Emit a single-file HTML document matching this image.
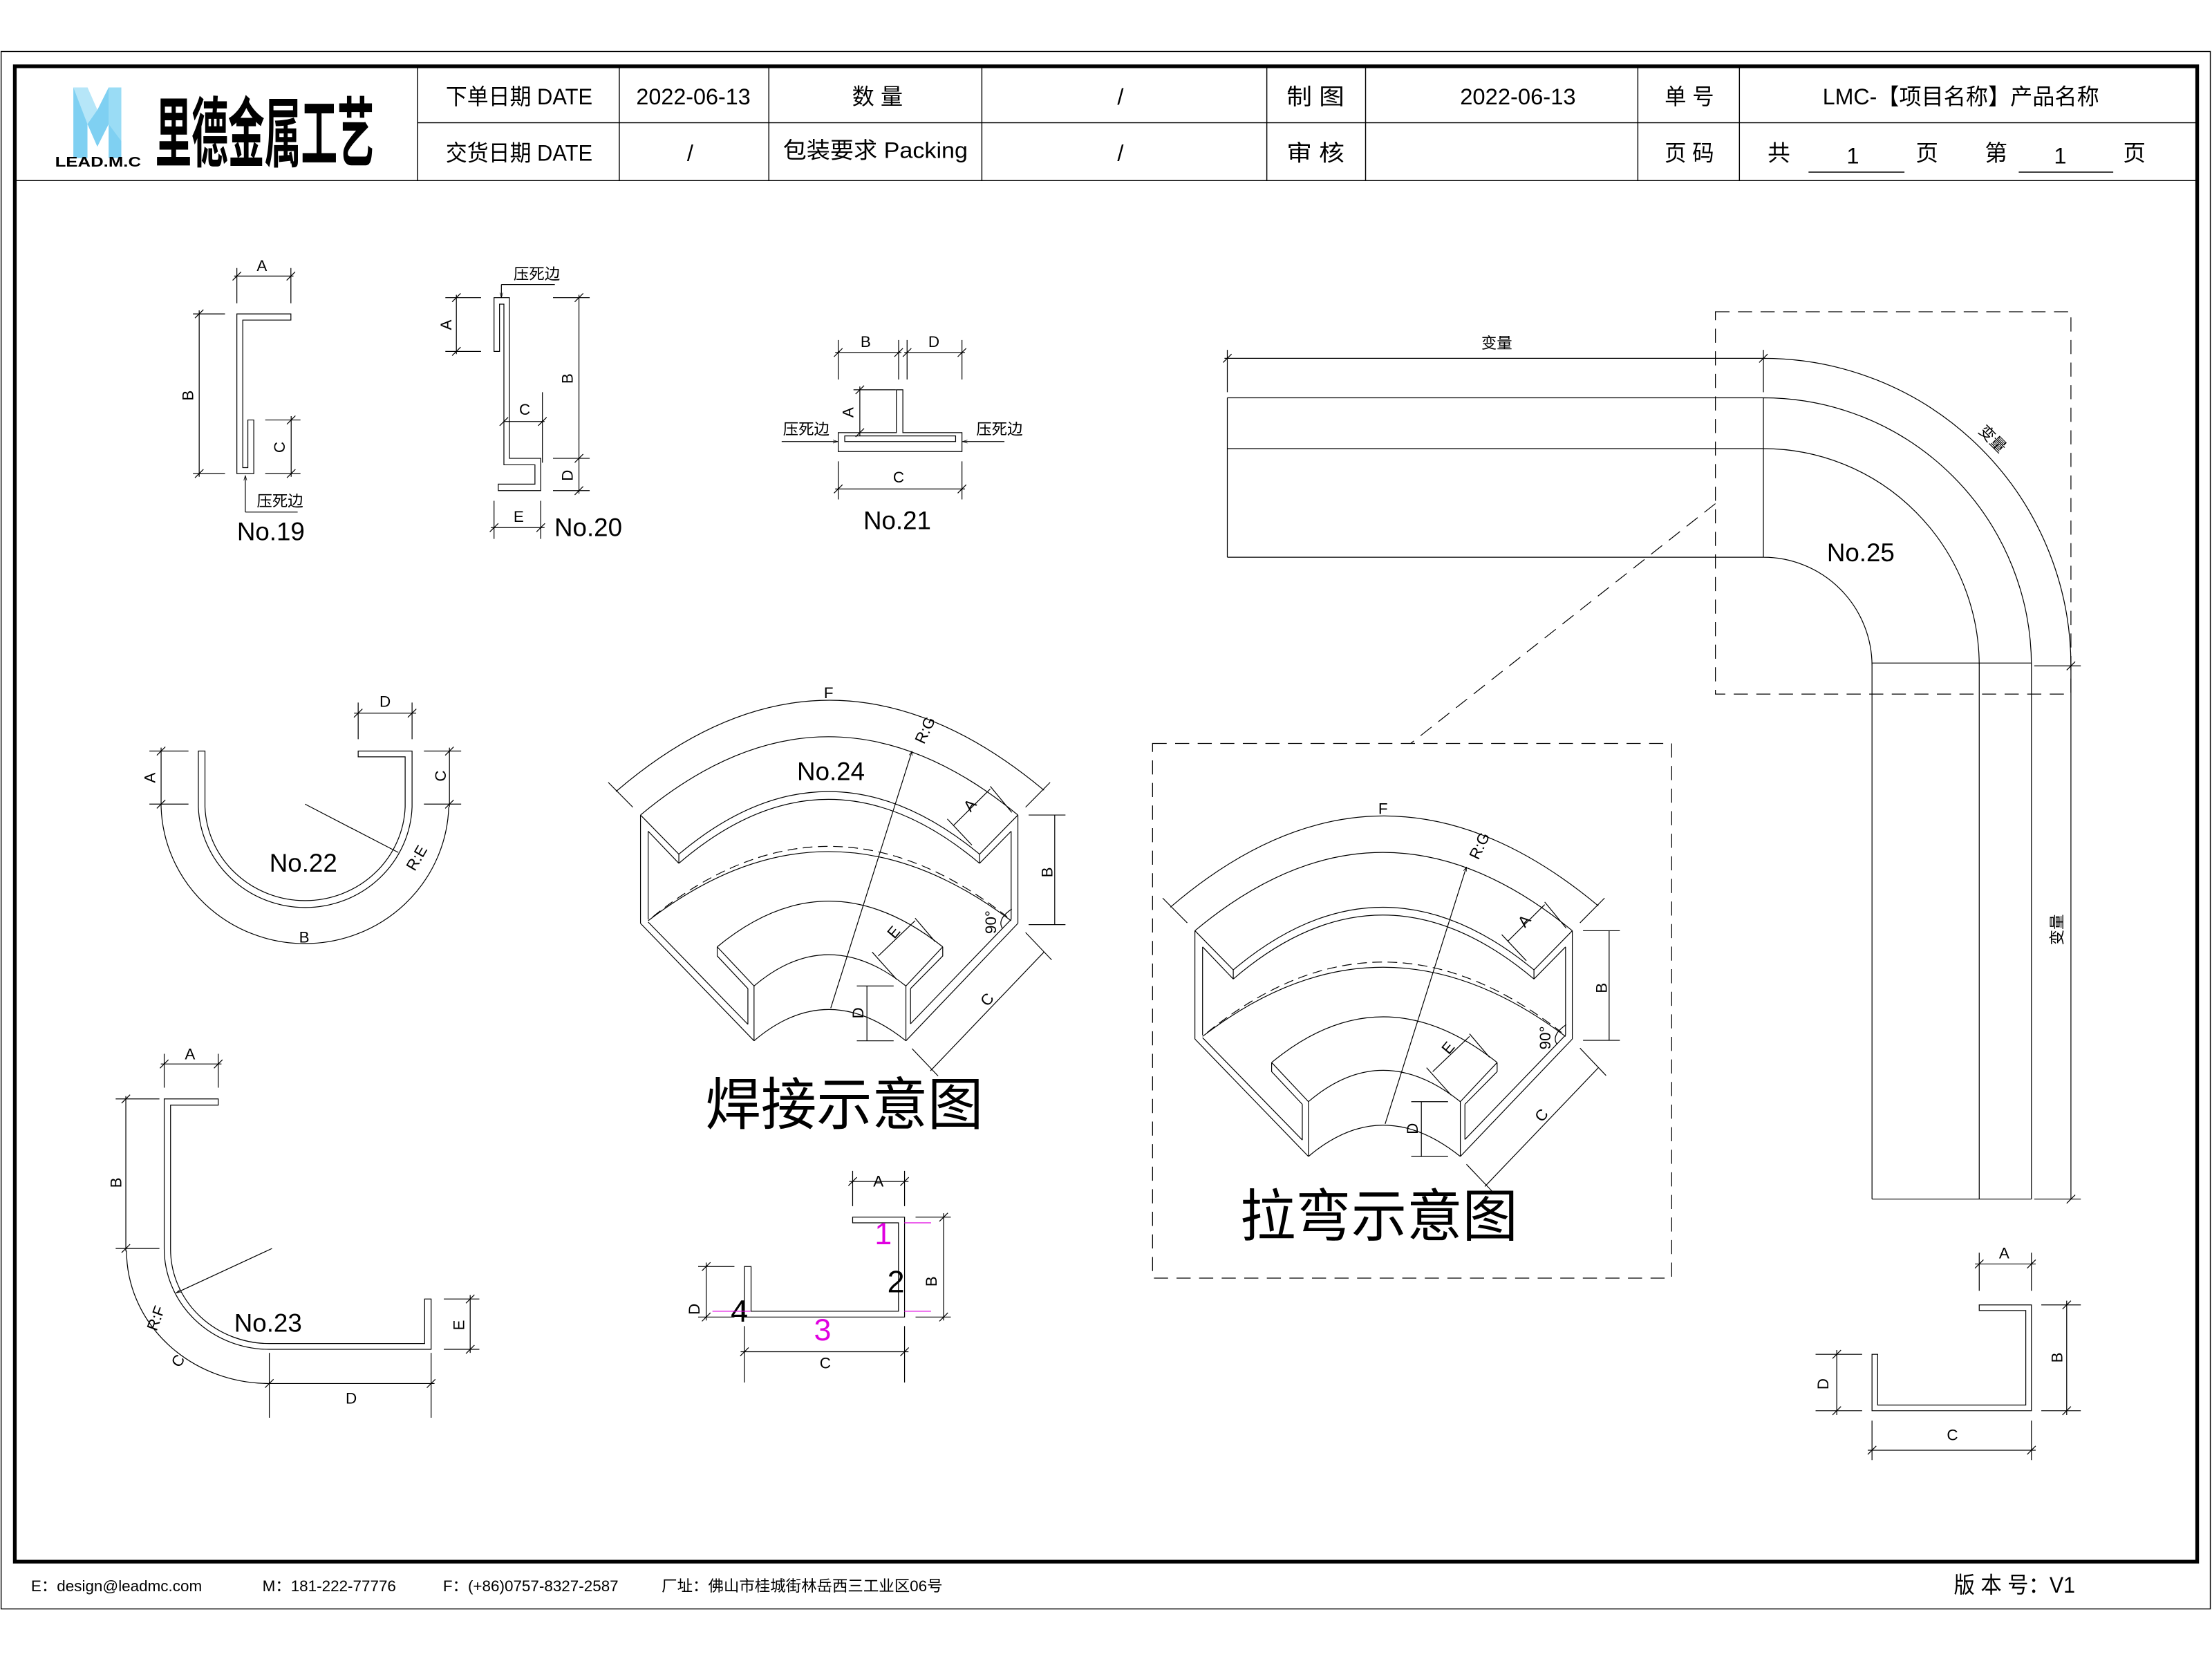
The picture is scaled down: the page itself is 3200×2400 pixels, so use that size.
<!DOCTYPE html>
<html><head><meta charset="utf-8"><style>
html,body{margin:0;padding:0;background:#fff;}
svg{display:block;}
text{font-family:"Liberation Sans","Noto Sans CJK SC",sans-serif;fill:#000;}
.cj{font-family:"Noto Sans CJK SC","WenQuanYi Zen Hei",sans-serif;}
</style></head><body>
<svg xmlns="http://www.w3.org/2000/svg" width="3200" height="2400" viewBox="0 0 1568 1176" preserveAspectRatio="none">
<defs>
<marker id="ar" viewBox="0 0 10 10" refX="10" refY="5" markerWidth="6" markerHeight="6" orient="auto"><path d="M0,2 L10,5 L0,8" fill="none" stroke="#000" stroke-width="1"/></marker>
<g id="p24" fill="none" stroke="#000" stroke-width="1.2" vector-effect="non-scaling-stroke">
<path vector-effect="non-scaling-stroke" d="M150,550 Q760,-50 1380,550 M150,550 L275,700 L275,735 M1380,550 L1255,700 L1255,735 M275,700 Q760,220 1255,700 M275,735 Q760,245 1255,735 M150,550 V965 M175,612 V950 M175,612 L275,735 M1380,550 V965 M1358,612 V950 M1358,612 L1255,735 M175,955 Q760,425 1358,955 M150,965 L520,1415 M175,960 L500,1352 M500,1215 V1352 M520,1205 V1415 M400,1055 Q760,705 1135,1055 M400,1055 V1090 L500,1215 M400,1055 L520,1205 M520,1205 Q760,965 1015,1205 M520,1415 Q760,1175 1015,1415 M1135,1055 V1090 L1030,1215 M1135,1055 L1015,1205 M1015,1205 V1415 M1030,1215 V1350 M1030,1350 L1358,950 M1015,1415 L1380,965"/>
<path vector-effect="non-scaling-stroke" stroke-dasharray="14,8" d="M190,940 Q760,400 1345,940"/>
<path vector-effect="non-scaling-stroke" d="M70,460 Q760,-237 1465,455 M45,425 L125,520 M1405,520 L1485,425 M1170,590 L1290,450 M1290,440 L1360,540 M1150,565 L1230,665 M1500,550 V970 M1415,550 H1535 M1415,970 H1535 M1095,1530 L1465,1075 M1405,1000 L1490,1105 M1035,1445 L1120,1550 M888,1205 V1415 M855,1205 H975 M855,1415 H975 M925,1090 L1045,955 M1045,945 L1110,1035 M905,1075 L985,1180 M1330,985 Q1310,950 1360,910"/>
<path vector-effect="non-scaling-stroke" d="M770,1290 L1035,305" marker-end="url(#ar)"/>
</g>
</defs>
<rect width="1568" height="1176" fill="#fff"/>
<rect x="0.8" y="36.5" width="1566" height="1104" fill="none" stroke="#000" stroke-width="0.7"/>
<rect x="10.5" y="47" width="1547" height="1060" fill="none" stroke="#000" stroke-width="2.6"/>
<g stroke="#000" stroke-width="0.7" fill="none">
<line x1="10" y1="128" x2="1558" y2="128"/>
<line x1="296" y1="87" x2="1558" y2="87"/>
<line x1="296" y1="47" x2="296" y2="128"/><line x1="439" y1="47" x2="439" y2="128"/><line x1="545" y1="47" x2="545" y2="128"/><line x1="696" y1="47" x2="696" y2="128"/><line x1="898" y1="47" x2="898" y2="128"/><line x1="968" y1="47" x2="968" y2="128"/><line x1="1161" y1="47" x2="1161" y2="128"/><line x1="1233" y1="47" x2="1233" y2="128"/>
<line x1="1282" y1="122" x2="1350" y2="122"/><line x1="1431" y1="122" x2="1498" y2="122"/>
</g>
<g>
<polygon points="52,62 62,62 69,78 77,62 86,62 86,112 77,112 77,88 69,104 62,88 62,112 52,112" fill="#7fd0f2"/>
<polygon points="52,62 62,62 69,78 62,88" fill="#b6e6f8"/>
<polygon points="77,62 86,62 86,100 77,88" fill="#9adcf5"/>
<text x="39" y="118" font-size="10" font-weight="bold" textLength="61" lengthAdjust="spacingAndGlyphs">LEAD.M.C</text>
<text class="cj" transform="translate(110,114) scale(0.5,1)" x="0" y="0" font-size="54" font-weight="bold" textLength="310" lengthAdjust="spacingAndGlyphs">里德金属工艺</text>
</g>
<g font-size="16">
<text x="316" y="74" textLength="104" lengthAdjust="spacingAndGlyphs">下单日期 DATE</text>
<text x="451" y="74" textLength="81" lengthAdjust="spacingAndGlyphs">2022-06-13</text>
<text x="604" y="74" textLength="36" lengthAdjust="spacingAndGlyphs">数 量</text>
<text x="792" y="74">/</text>
<text x="912" y="74" textLength="41" lengthAdjust="spacingAndGlyphs">制 图</text>
<text x="1035" y="74" textLength="82" lengthAdjust="spacingAndGlyphs">2022-06-13</text>
<text x="1180" y="74" textLength="35" lengthAdjust="spacingAndGlyphs">单 号</text>
<text x="1292" y="74" textLength="196" lengthAdjust="spacingAndGlyphs">LMC-【项目名称】产品名称</text>
<text x="316" y="114" textLength="104" lengthAdjust="spacingAndGlyphs">交货日期 DATE</text>
<text x="487" y="114">/</text>
<text x="555" y="112" textLength="131" lengthAdjust="spacingAndGlyphs">包装要求 Packing</text>
<text x="792" y="114">/</text>
<text x="912" y="114" textLength="41" lengthAdjust="spacingAndGlyphs">审 核</text>
<text x="1180" y="114" textLength="35" lengthAdjust="spacingAndGlyphs">页 码</text>
<text x="1253" y="114">共</text><text x="1309" y="116">1</text><text x="1358" y="114">页</text>
<text x="1407" y="114">第</text><text x="1456" y="116">1</text><text x="1505" y="114">页</text>
</g>
<g fill="none" stroke="#000" stroke-width="0.6">
<path d="M167.9,222.5 H206.2 V226.9 H172.1 V331.5 H175.7 V297.7 H179.9 V335.7 H167.9 Z"/>
<path d="M167.9,215 V190 M206.2,215 V190 M166,195.7 H208 M136.8,222.5 H159.5 M136.8,335.7 H159.5 M141.2,220 V338 M188,297.7 H213 M188,335.7 H213 M206.4,295 V338 M173.9,363 H211"/>
<path d="M173.9,363 V337" marker-end="url(#ar)"/>
<path d="M164.9,198.7 l6,-6 M203.2,198.7 l6,-6 M138.2,225.5 l6,-6 M138.2,338.7 l6,-6 M203.4,300.7 l6,-6 M203.4,338.7 l6,-6"/>
<path d="M350.2,211 H361.1 V324.9 H383.3 V347.8 H353.2 V343.2 H379.2 V329.5 H357.2 V215.6 H354.1 V249.1 H350.2 Z"/>
<path d="M315.7,211 H341 M315.7,249.1 H341 M323.5,209 V251 M392,211 H418 M392,324.9 H418 M392,347.8 H418 M410.4,209 V350 M357.2,298.8 H386 M384.5,278 V328 M350.2,355 V382 M383.3,355 V382 M348,374 H386 M355.4,201.7 H393.3"/>
<path d="M355.4,201.7 V211" marker-end="url(#ar)"/>
<path d="M320.5,214 l6,-6 M320.5,252.1 l6,-6 M407.4,214 l6,-6 M407.4,327.9 l6,-6 M407.4,350.8 l6,-6 M354.2,301.8 l6,-6 M381.5,301.8 l6,-6 M347.2,377 l6,-6 M380.3,377 l6,-6"/>
<path d="M594.2,306.7 H635.4 V276.3 H640 V306.7 H681.9 V320.1 H594.2 Z M598.8,309 H677.4 V313 H598.8 Z"/>
<path d="M594.2,241 V269 M637,241 V269 M643,241 V269 M681.9,241 V269 M592,249.9 H639 M641,249.9 H684 M605,276.3 H635 M609.5,274 V309 M594.2,327 V354 M681.9,327 V354 M592,346.6 H684"/>
<path d="M554.1,313 H594" marker-end="url(#ar)"/>
<path d="M712,313 H682.2" marker-end="url(#ar)"/>
<path d="M591.2,252.9 l6,-6 M634,252.9 l6,-6 M640,252.9 l6,-6 M678.9,252.9 l6,-6 M606.5,279.3 l6,-6 M606.5,309.7 l6,-6 M591.2,349.6 l6,-6 M678.9,349.6 l6,-6"/>
<path d="M140.6,532.4 V572 A75.8,74 0 0 0 292.1,572 V532.4 H253.9 V536.5 H287.2 V572 A71,69 0 0 1 145.3,572 V532.4 Z"/>
<path d="M114.2,572 A102,100 0 0 0 318.1,572 M105.9,532.4 H133.6 M105.9,570 H133.6 M114.2,530 V572 M300.5,532.4 H326.9 M300.5,570 H326.9 M318.6,530 V572 M253.9,498 V524 M292.1,498 V524 M251,505.5 H295 M216.2,570 L282.4,604.3"/>
<path d="M111.2,535.4 l6,-6 M111.2,573 l6,-6 M315.6,535.4 l6,-6 M315.6,573 l6,-6 M250.9,508.5 l6,-6 M289.1,508.5 l6,-6"/>
<path d="M116.4,779 H154.7 V783.4 H120.9 V885 A70,67 0 0 0 190.9,952.4 H301 V920.8 H305.6 V956.5 H190.9 A74.5,71.5 0 0 1 116.4,885 Z"/>
<path d="M116.4,747 V771 M154.7,747 V771 M114,754.2 H157 M82,779 H113 M82,885 H113 M89.2,777 V887 M89.7,886.6 A101,94 0 0 0 190.9,980.7 M314.6,920.8 H339.8 M314.6,956.5 H339.8 M333.3,918 V959 M190.9,959 V1005 M305.6,959 V1005 M188,980.7 H308"/>
<path d="M192.8,885 L124.8,916.5" marker-end="url(#ar)"/>
<path d="M113.4,757.2 l6,-6 M151.7,757.2 l6,-6 M86.2,782 l6,-6 M86.2,888 l6,-6 M330.3,923.8 l6,-6 M330.3,959.5 l6,-6 M187.9,983.7 l6,-6 M302.6,983.7 l6,-6"/>
<path d="M604.4,862.8 H641.2 V933.6 H527.7 V897.8 H532.4 V929.5 H636.9 V866.8 H604.4 Z"/>
<path d="M604.4,830 V855 M641.2,830 V855 M602,837.5 H644 M649,862.8 H674 M649,933.6 H674 M668.9,860 V936 M494.9,897.8 H520.6 M494.9,933.6 H520.6 M500.6,895 V936 M527.7,940 V980 M641.2,940 V980 M525,958.2 H644"/>
<path d="M601.4,840.5 l6,-6 M638.2,840.5 l6,-6 M665.9,865.8 l6,-6 M665.9,936.6 l6,-6 M497.6,900.8 l6,-6 M497.6,936.6 l6,-6 M524.7,961.2 l6,-6 M638.2,961.2 l6,-6"/>
<path d="M1403,925 H1440 V1000 H1327 V960 H1331 V996 H1436 V929 H1403 Z"/>
<path d="M1403,888 V915 M1440,888 V915 M1400,896 H1443 M1447,925 H1475 M1447,1000 H1475 M1465,922 V1003 M1287,960 H1320 M1287,1000 H1320 M1302,957 V1003 M1327,1007 V1035 M1440,1007 V1035 M1324,1028 H1443"/>
<path d="M1400,899 l6,-6 M1437,899 l6,-6 M1462,928 l6,-6 M1462,1003 l6,-6 M1299,963 l6,-6 M1299,1003 l6,-6 M1324,1031 l6,-6 M1437,1031 l6,-6"/>
<path d="M870,282 H1250 M870,318 H1250 M870,395 H1250 M870,282 V395 M1250,282 V395 M1250,282 A190,190 0 0 1 1440,472 M1250,318 A153,154 0 0 1 1403,472 M1250,395 A77,77 0 0 1 1327,472 M1327,470 V850 M1403,470 V850 M1440,470 V850 M1327,850 H1440 M1327,470 H1440"/>
<path d="M870,248 V278 M1250,248 V278 M868,254 H1252 M1250,254 A218,218 0 0 1 1468,472 M1468,472 V850 M1442,850 H1475 M1442,472 H1475"/>
<path d="M867,257 l6,-6 M1247,257 l6,-6 M1465,475 l6,-6 M1465,853 l6,-6"/>
<path stroke-dasharray="10,6" d="M1216,221 H1468 V492 H1216 Z M1216,357 L1000,527 M817,527 H1185 V906 H817 Z"/>
</g>
<g transform="translate(421.4,476) scale(0.2175,0.185)"><use href="#p24"/></g>
<g transform="translate(814.4,558) scale(0.2175,0.185)"><use href="#p24"/></g>
<g font-size="11">
<text x="182" y="192">A</text>
<text transform="translate(137,284) rotate(-90)">B</text>
<text transform="translate(202,321) rotate(-90)">C</text>
<text x="182" y="359">压死边</text>
<text x="364" y="198">压死边</text>
<text transform="translate(320,234) rotate(-90)">A</text>
<text transform="translate(406,272) rotate(-90)">B</text>
<text transform="translate(406,341) rotate(-90)">D</text>
<text x="368" y="294">C</text>
<text x="364" y="370">E</text>
<text x="610" y="246">B</text>
<text x="658" y="246">D</text>
<text transform="translate(605,296) rotate(-90)">A</text>
<text x="633" y="342">C</text>
<text x="555" y="308">压死边</text>
<text x="692" y="308">压死边</text>
<text transform="translate(110,555) rotate(-90)">A</text>
<text transform="translate(316,554) rotate(-90)">C</text>
<text x="269" y="501">D</text>
<text x="212" y="668">B</text>
<text transform="translate(294,618) rotate(-60)">R:E</text>
<text x="131" y="751">A</text>
<text transform="translate(86,842) rotate(-90)">B</text>
<text transform="translate(111,944) rotate(-70)">R:F</text>
<text transform="translate(127,970) rotate(-55)">C</text>
<text transform="translate(329,943) rotate(-90)">E</text>
<text x="245" y="995">D</text>
<text x="619" y="841">A</text>
<text transform="translate(664,912) rotate(-90)">B</text>
<text transform="translate(496,932) rotate(-90)">D</text>
<text x="581" y="970">C</text>
<text x="1417" y="892">A</text>
<text transform="translate(1462,966) rotate(-90)">B</text>
<text transform="translate(1296,985) rotate(-90)">D</text>
<text x="1380" y="1021">C</text>
<text x="1050" y="247">变量</text>
<text transform="translate(1402,306) rotate(45)">变量</text>
<text transform="translate(1462,670) rotate(-90)">变量</text>
<text x="584" y="495">F</text>
<text transform="translate(655,528) rotate(-65)">R:G</text>
<text transform="translate(688,576) rotate(-50)">A</text>
<text transform="translate(746,622) rotate(-90)">B</text>
<text transform="translate(706,662) rotate(-90)">90°</text>
<text transform="translate(634,666) rotate(-50)">E</text>
<text transform="translate(700,714) rotate(-50)">C</text>
<text transform="translate(612,722) rotate(-90)">D</text>
<text x="977" y="577">F</text>
<text transform="translate(1048,610) rotate(-65)">R:G</text>
<text transform="translate(1081,658) rotate(-50)">A</text>
<text transform="translate(1139,704) rotate(-90)">B</text>
<text transform="translate(1099,744) rotate(-90)">90°</text>
<text transform="translate(1027,748) rotate(-50)">E</text>
<text transform="translate(1093,796) rotate(-50)">C</text>
<text transform="translate(1005,804) rotate(-90)">D</text>
</g>
<g font-size="18">
<text x="168" y="383">No.19</text>
<text x="393" y="380">No.20</text>
<text x="612" y="375">No.21</text>
<text x="191" y="618">No.22</text>
<text x="565" y="553">No.24</text>
<text x="166" y="944">No.23</text>
<text x="1295" y="398">No.25</text>
</g>
<text x="620" y="882" font-size="22" style="fill:#e000e0">1</text>
<text x="629" y="916" font-size="22">2</text>
<text x="518" y="937" font-size="22">4</text>
<text x="577" y="950" font-size="22" style="fill:#e000e0">3</text>
<g stroke="#e000e0" stroke-width="0.6"><line x1="641" y1="866.8" x2="660" y2="866.8"/><line x1="505" y1="929.5" x2="532" y2="929.5"/><line x1="641" y1="929.5" x2="660" y2="929.5"/></g>
<text class="cj" x="500" y="797" font-size="40" textLength="197" lengthAdjust="spacingAndGlyphs">焊接示意图</text>
<text class="cj" x="879" y="876" font-size="40" textLength="197" lengthAdjust="spacingAndGlyphs">拉弯示意图</text>
<g font-size="11">
<text x="22" y="1128">E：design@leadmc.com</text>
<text x="186" y="1128">M：181-222-77776</text>
<text x="314" y="1128">F：(+86)0757-8327-2587</text>
<text x="469" y="1128">厂址：佛山市桂城街林岳西三工业区06号</text>
</g>
<text x="1385" y="1129" font-size="16" textLength="86" lengthAdjust="spacingAndGlyphs">版 本 号：V1</text>
</svg>
</body></html>
